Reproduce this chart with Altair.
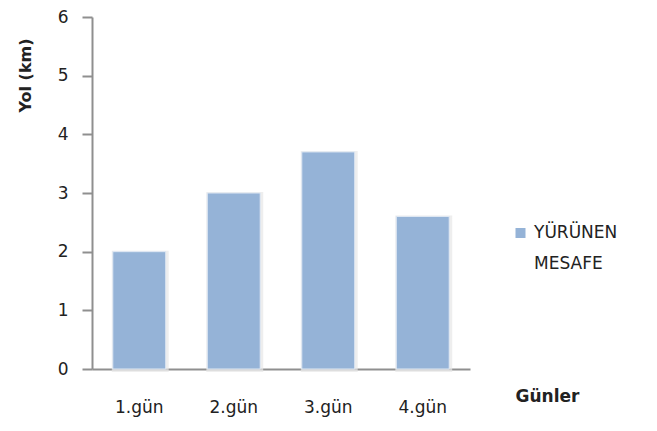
import altair as alt
import pandas as pd

days = ["1.gün", "2.gün", "3.gün", "4.gün"]
distance_km = [2.0, 3.0, 3.7, 2.6]
series_name = "YÜRÜNEN MESAFE"
legend_lines = ["YÜRÜNEN", "MESAFE"]
y_ticks = [0, 1, 2, 3, 4, 5, 6]

df = pd.DataFrame({"gun": days, "yol": distance_km})
FONT = "DejaVu Sans"
BAR = "#95B3D7"
AXIS = "#8f8f8f"

x_enc = alt.X(
    "gun:N",
    sort=days,
    scale=alt.Scale(paddingInner=0.44, paddingOuter=0.22),
    axis=alt.Axis(
        title="Günler",
        titleX=423,
        titleY=27,
        titleAlign="left",
        titleBaseline="middle",
        titleFont=FONT,
        titleFontSize=17,
        titleFontWeight="bold",
        titleColor="#222222",
        labelAngle=0,
        labelFont=FONT,
        labelFontSize=17,
        labelColor="#222222",
        labelPadding=30,
        ticks=False,
        domainColor=AXIS,
        domainWidth=2,
        grid=False,
    ),
)
y_enc = alt.Y(
    "yol:Q",
    scale=alt.Scale(domain=[0, 6], nice=False),
    axis=alt.Axis(
        title="Yol (km)",
        values=y_ticks,
        titleX=-67,
        titleY=58,
        titleAngle=270,
        titleAlign="center",
        titleBaseline="middle",
        titleFont=FONT,
        titleFontSize=16,
        titleFontWeight="bold",
        titleColor="#222222",
        labelFont=FONT,
        labelFontSize=17,
        labelColor="#222222",
        labelPadding=14,
        tickSize=10,
        tickColor=AXIS,
        tickWidth=2,
        domainColor=AXIS,
        domainWidth=2,
        grid=False,
    ),
)

shadow = alt.Chart(df).mark_bar(
    color="#d4d4d4", stroke="#e8e8e8", strokeWidth=4, xOffset=1, yOffset=1, opacity=0.7
).encode(x=x_enc, y=y_enc)

bars = alt.Chart(df).mark_bar(color=BAR, stroke="#dfe8f3", strokeWidth=1).encode(
    x=x_enc, y=y_enc
)

leg_df = pd.DataFrame({"name": [series_name]})
leg_sym = alt.Chart(leg_df).mark_square(size=100, color=BAR, opacity=1).encode(
    x=alt.value(428.5), y=alt.value(216)
)
leg_txt = alt.Chart(pd.DataFrame({"t": [legend_lines]})).mark_text(
    align="left", baseline="middle", font=FONT, fontSize=17, color="#222222", lineHeight=31
).encode(x=alt.value(442), y=alt.value(216), text="t:N")

chart = (
    alt.layer(shadow, bars, leg_sym, leg_txt)
    .properties(
        width=378,
        height=352,
        background="white",
        autosize=alt.AutoSizeParams(type="none"),
        padding={"left": 84, "top": 9, "right": 179, "bottom": 54},
    )
    .configure_view(stroke="transparent", strokeWidth=0)
)

chart.save("out.html", embed_options={"renderer": "svg", "actions": False})
